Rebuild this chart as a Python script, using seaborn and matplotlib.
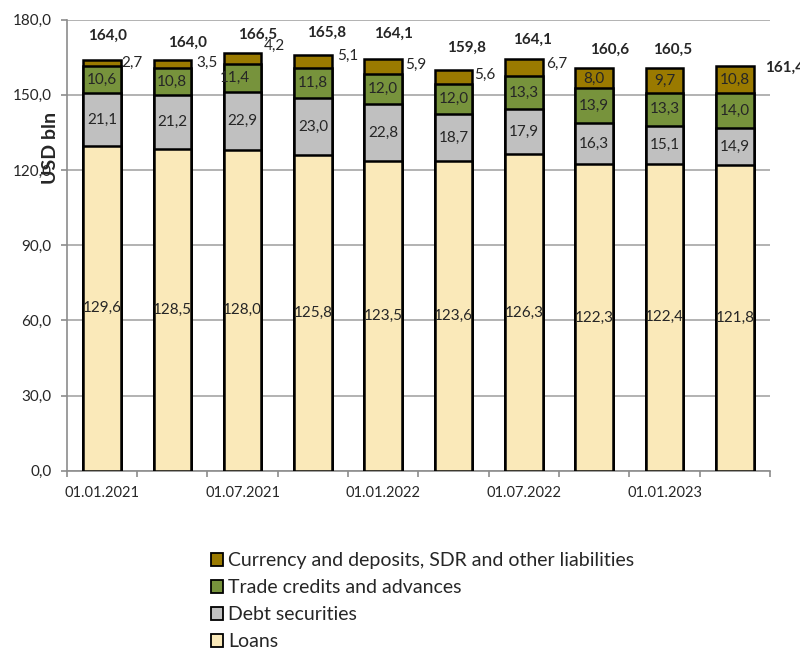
import numpy as np
import pandas as pd
import matplotlib
matplotlib.use("Agg")
import matplotlib.pyplot as plt
import seaborn as sns
from matplotlib.patches import Patch

dates = ["01.01.2021", "01.04.2021", "01.07.2021", "01.10.2021", "01.01.2022",
         "01.04.2022", "01.07.2022", "01.10.2022", "01.01.2023", "01.04.2023"]
loans = [129.6, 128.5, 128.0, 125.8, 123.5, 123.6, 126.3, 122.3, 122.4, 121.8]
debt = [21.1, 21.2, 22.9, 23.0, 22.8, 18.7, 17.9, 16.3, 15.1, 14.9]
trade = [10.6, 10.8, 11.4, 11.8, 12.0, 12.0, 13.3, 13.9, 13.3, 14.0]
currency = [2.7, 3.5, 4.2, 5.1, 5.9, 5.6, 6.7, 8.0, 9.7, 10.8]
totals = [164.0, 164.0, 166.5, 165.8, 164.1, 159.8, 164.1, 160.6, 160.5, 161.4]
series_names = ["Loans", "Debt securities", "Trade credits and advances",
                "Currency and deposits, SDR and other liabilities"]
colors = ["#FAE9B9", "#C0C0C0", "#77933C", "#9A7A00"]

# label placement (layout only)
total_label_y = [173.5, 170.7, 173.8, 174.5, 174.2, 168.9, 171.8, 168.1, 168.1, 160.7]
total_label_dx = [0.08, 0.22, 0.21, 0.2, 0.15, 0.18, 0.13, 0.22, 0.12, 0.7]
cur_label_y = [162.5, 162.6, 169.5, 165.4, 161.8, 157.8, 162.1]
cur_label_dx = [0.43, 0.5, 0.45, 0.5, 0.46, 0.44, 0.47]

sns.set_theme(style="white")
plt.rcParams['font.family'] = ['Lato', 'DejaVu Sans']

df = pd.DataFrame({"date": dates, "Loans": loans, "Debt securities": debt,
                   "Trade credits and advances": trade,
                   "Currency and deposits, SDR and other liabilities": currency})

fig = plt.figure(figsize=(8, 6.48), dpi=100)
ax = fig.add_axes([0.0835, 0.2736, 0.879, 0.6963])

cum = np.zeros(len(dates))
cums = []
for name in series_names:
    cum = cum + df[name].values
    cums.append(cum.copy())

ax.yaxis.grid(True, color="#A6A6A6", linewidth=1.2)
ax.set_axisbelow(True)

for i in range(len(series_names) - 1, -1, -1):
    sns.barplot(x=dates, y=cums[i], color=colors[i], width=0.533,
                edgecolor="black", linewidth=1.8, saturation=1, ax=ax,
                order=dates, zorder=3)

ax.set_ylim(0, 180)
ax.set_xlim(-0.5, len(dates) - 0.5)
ax.set_yticks(np.arange(0, 181, 30))
ax.set_yticklabels([f"{v:.1f}".replace(".", ",") for v in np.arange(0, 181, 30)], fontsize=11)

ax.set_xticks(np.arange(-0.5, len(dates), 1))
ax.set_xticklabels([])
ax.set_xticks(np.arange(len(dates)), minor=True)
ax.set_xticklabels([d if k % 2 == 0 else "" for k, d in enumerate(dates)], minor=True, fontsize=10.5)
ax.tick_params(axis="x", which="major", direction="out", length=4, color="#8C8C8C", width=1.2, bottom=True)
ax.tick_params(axis="x", which="minor", length=0, pad=11, bottom=True)
ax.tick_params(axis="y", direction="out", length=4, color="#8C8C8C", width=1.2, left=True, pad=7)

for s in ["top", "right"]:
    ax.spines[s].set_visible(False)
for s in ["left", "bottom"]:
    ax.spines[s].set_color("#8C8C8C")
    ax.spines[s].set_linewidth(1.2)
ax.set_xlabel("")
ax.set_ylabel("")
ax.text(-0.0225, 0.715, "USD bln", transform=ax.transAxes, rotation=90,
        ha="center", va="center", fontsize=14, fontweight="bold", zorder=6)

def fmt(v):
    return f"{v:.1f}".replace(".", ",")

fs = 11
for k in range(len(dates)):
    ax.text(k, loans[k] / 2, fmt(loans[k]), ha="center", va="center", fontsize=fs, zorder=5)
    ax.text(k, loans[k] + debt[k] / 2, fmt(debt[k]), ha="center", va="center", fontsize=fs, zorder=5)
    ax.text(k - (0.11 if k == 2 else 0), cums[1][k] + trade[k] / 2, fmt(trade[k]),
            ha="center", va="center", fontsize=fs, zorder=5)
    if k < len(cur_label_y):
        ax.text(k + cur_label_dx[k], cur_label_y[k], fmt(currency[k]), ha="center", va="center",
                fontsize=fs, zorder=5)
    else:
        ax.text(k, cums[2][k] + currency[k] / 2, fmt(currency[k]), ha="center", va="center",
                fontsize=fs, zorder=5)
    ax.text(k + total_label_dx[k], total_label_y[k], fmt(totals[k]), ha="center", va="center",
            fontsize=fs, fontweight="bold", zorder=5, clip_on=False)

handles = [Patch(facecolor=colors[i], edgecolor="black", linewidth=1.3, label=series_names[i])
           for i in range(len(series_names) - 1, -1, -1)]
fig.legend(handles=handles, loc="upper left", bbox_to_anchor=(0.251, 0.163), frameon=False,
           fontsize=14, handlelength=0.65, handleheight=0.65, handletextpad=0.25,
           labelspacing=0.52, borderpad=0)

fig.savefig("out.png", dpi=100)
